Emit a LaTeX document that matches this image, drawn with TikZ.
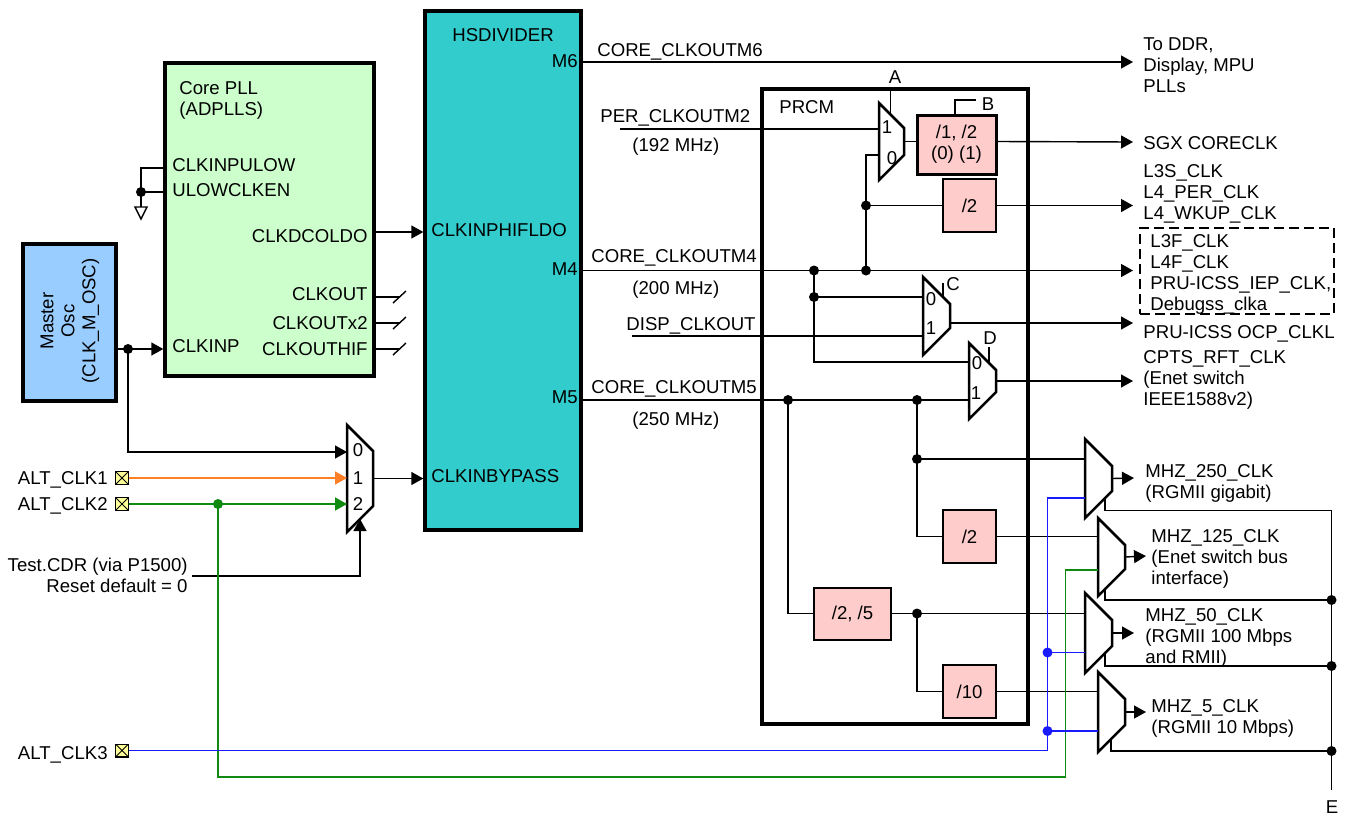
\documentclass[tikz,border=0pt]{standalone}
\usepackage{fontspec}
\setmainfont{Liberation Sans}
\usetikzlibrary{arrows.meta,positioning}
\definecolor{oscblue}{HTML}{99CCFF}
\definecolor{pllgreen}{HTML}{CCFFCC}
\definecolor{hsteal}{HTML}{33CCCC}
\definecolor{divpink}{HTML}{FFCCCC}
\definecolor{padyellow}{HTML}{FFFF99}
\definecolor{altorange}{HTML}{FF7F27}
\definecolor{altgreen}{HTML}{108A10}
\definecolor{altblue}{HTML}{1A1AFF}
\tikzset{
  every node/.style={font=\fontsize{9.3}{10.5}\selectfont},
  block/.style={draw,line width=1.7pt,minimum width=#1,inner sep=0pt},
  divbox/.style={draw,fill=divpink,line width=.7pt,inner sep=0pt,align=center},
  wire/.style={line width=.7pt},
  sig/.style={wire,-{Triangle[length=6pt,width=6.5pt]}},
  muxline/.style={line width=1.25pt,line join=miter},
  lbl/.style={inner sep=0pt,anchor=west,text height=6.8pt,text depth=0pt,yshift=-.3pt},
  lblr/.style={inner sep=0pt,anchor=east,text height=6.8pt,text depth=0pt,yshift=-.3pt},
  lblm/.style={inner sep=0pt,anchor=west,align=left,yshift=-1pt},
  digit/.style={inner sep=0pt,text height=6.8pt,text depth=0pt},
  pad/.style={draw,fill=padyellow,line width=.6pt,minimum size=6.4pt,inner sep=0pt,
    path picture={\draw[line width=.5pt] (path picture bounding box.north west) -- (path picture bounding box.south east)
      (path picture bounding box.north east) -- (path picture bounding box.south west);}},
}
\begin{document}
\begin{tikzpicture}[x=0.5pt,y=-0.5pt]
  \useasboundingbox (0,0) rectangle (1348,815);
  % blocks
  \node[block=46.5pt,fill=oscblue,minimum height=78.5pt] (osc) at (69.5,322.5) {};
  \node[block=104.5pt,fill=pllgreen,minimum height=156.5pt] (pll) at (269.5,219.5) {};
  \node[block=78pt,fill=hsteal,minimum height=259.5pt] (hsdiv) at (503,270.5) {};
  \node[block=133pt,line width=2pt,minimum height=317.5pt] (prcm) at (895,406.5) {};
  \node[draw,dash pattern=on 5pt off 2.5pt,line width=1.2pt,minimum width=97pt,minimum height=43pt,inner sep=0pt] (dashbox) at (1237,271) {};
  % dividers
  \node[divbox,line width=1.5pt,minimum width=39.5pt,minimum height=29.5pt] (divb) at (956.5,144.5) {/1, /2\\(0) (1)};
  \node[divbox,minimum width=26.5pt,minimum height=26.5pt] (divl) at (969.5,205.5) {/2};
  \node[divbox,line width=1pt,minimum width=26.5pt,minimum height=26.5pt] (divm) at (969.5,536.5) {/2};
  \node[divbox,line width=1pt,minimum width=38.5pt,minimum height=26pt] (divf) at (852.5,614) {/2, /5};
  \node[divbox,line width=1pt,minimum width=26.5pt,minimum height=26.5pt] (divt) at (969.5,691.5) {/10};
  % pads
  \node[pad] (pad1) at (122,478) {};
  \node[pad] (pad2) at (122,504) {};
  \node[pad] (pad3) at (122,750.5) {};
  % muxes
  \foreach \nm/\x/\y/\w/\h in {muxs/347/425/26/107,muxa/879/103/25/77,muxc/923/277/27/78,muxd/969/343/27/76,
    muxp/1085/439/27/79,muxq/1098/518/27/78,muxr/1085/593/27/80,muxt/1098/672/27/80}
    \draw[muxline,fill=white] (\x,\y) -- ++(\w,\w) -- ++(0,{\h-2*\w}) coordinate[midway] (\nm-out) -- ++(-\w,\w) -- cycle;
  % junctions and corners
  \coordinate (joscs) at (128,349);
  \coordinate (jgnd) at (141,192);
  \coordinate (gndtop) at (141,168);
  \coordinate (gndend) at (141,207);
  \coordinate (jalt) at (218,504);
  \coordinate (jmf) at (814,270.5);
  \coordinate (jmg) at (866,270.5);
  \coordinate (jmh) at (866,205.5);
  \coordinate (jmc) at (814,297);
  \coordinate (jfa) at (788,400);
  \coordinate (jfb) at (917,400);
  \coordinate (jfc) at (917,459);
  \coordinate (jfd) at (917,613.5);
  \coordinate (jba) at (1047.5,652.5);
  \coordinate (jbb) at (1047.5,731);
  \coordinate (jea) at (1331.5,600);
  \coordinate (jeb) at (1331.5,666);
  \coordinate (jec) at (1331.5,751);
  \coordinate (etop) at (1331.5,510.5);
  \coordinate (eend) at (1331.5,790);
  % clock source
  \draw[sig] (osc.east |- joscs) -- (joscs) -- (pll.west |- joscs);
  \draw[sig] (joscs) |- (347,452);
  \draw[wire] (pll.west |- gndtop) -- (gndtop) -- (jgnd) -- (gndend);
  \draw[wire] (pll.west |- jgnd) -- (jgnd);
  \draw[wire,fill=white] (135,207) -- (147,207) -- (141,219) -- cycle;
  \draw[sig] (pll.east |- 0,232) -- (hsdiv.west |- 0,232);
  \foreach \yy in {297,323,349} {
    \draw[wire] (pll.east |- 0,\yy) -- (400,\yy);
    \draw[wire] (393,\yy+6) -- (406,\yy-6);
  }
  \draw[sig,altorange] (pad1) -- (347,478);
  \draw[sig,altgreen] (pad2) -- (jalt) -- (347,504);
  \draw[sig] (muxs-out) -- (hsdiv.west |- muxs-out);
  \coordinate (testa) at (192,576);
  \coordinate (testb) at (360,519);
  \draw[sig] (testa) -| (testb);
  % hsdivider outputs
  \draw[sig] (hsdiv.east |- 0,62) -- (1133,62);
  \draw[wire] (620,129) -- (879,129);
  \draw[sig] (hsdiv.east |- jmf) -- (jmf) -- (jmg) -- (1133,270.5);
  \draw[wire] (jmg) -- (866,155) -- (879,155);
  \draw[wire] (jmh) -- (divl.west);
  \draw[sig] (divl.east) -- (1133,205.5);
  \draw[wire] (muxa-out) -- (divb.west |- muxa-out);
  \draw[sig] (divb.east |- muxa-out) -- (1133,142);
  \draw[wire] (890.5,91) -- (890.5,115);
  \draw[wire] (955,115) -- (955,100) -- (976,100);
  \draw[wire] (jmf) -- (814,362) -- (969,362);
  \draw[wire] (jmc) -- (923,297);
  \draw[wire] (632,336) -- (923,336);
  \draw[wire] (943,283) -- (943,296);
  \draw[sig] (muxc-out |- 0,323) -- (1133,323);
  \draw[wire] (989,347) -- (989,362);
  \draw[wire] (hsdiv.east |- jfa) -- (969,400);
  \draw[sig] (muxd-out) -- (1133,381);
  \draw[wire] (jfb) -- (917,536.5) -- (divm.west);
  \draw[wire] (jfc) -- (1085,459);
  \draw[wire] (divm.east) -- (1098,536.5);
  \draw[wire] (jfa) -- (788,613.5) -- (divf.west |- jfd);
  \draw[wire] (divf.east |- jfd) -- (1085,613.5);
  \draw[wire] (jfd) -- (917,691.5) -- (divt.west);
  \draw[wire] (divt.east) -- (1098,691.5);
  % alt clocks to the output muxes
  \draw[wire,altgreen] (jalt) -- (218,777) -- (1065.5,777) -- (1065.5,570) -- (1098,570);
  \draw[wire,altblue] (pad3) -- (1047.5,750.5) -- (1047.5,498) -- (1085,498);
  \draw[wire,altblue] (jba) -- (1085,652.5);
  \draw[wire,altblue] (jbb) -- (1098,731);
  % output muxes
  \draw[sig] (muxp-out) -- (1134,478);
  \draw[sig] (muxq-out) -- (1146,556);
  \draw[sig] (muxr-out) -- (1134,633);
  \draw[sig] (muxt-out) -- (1146,712);
  \draw[wire] (1105,499) -- (1105,510.5) -- (etop) -- (eend);
  \draw[wire] (1105,589) -- (1105,600) -- (jea);
  \draw[wire] (1105,654) -- (1105,666) -- (jeb);
  \draw[wire] (1111,740) -- (1111,751) -- (jec);
  % dots
  \foreach \jn in {joscs,jgnd,jmf,jmg,jmh,jmc,jfa,jfb,jfc,jfd,jea,jeb,jec}
    \fill (\jn) circle (2.5pt);
  \fill[altgreen] (jalt) circle (2.5pt);
  \fill[altblue] (jba) circle (2.5pt);
  \fill[altblue] (jbb) circle (2.5pt);
  % mux inputs
  \node[digit] (s0) at (358,450) {0};
  \node[digit] (s1) at (358,478) {1};
  \node[digit] (s2) at (358,504) {2};
  \node[digit] (a1) at (887,127) {1};
  \node[digit] (a0) at (892,158) {0};
  \node[digit] (c0) at (931,299) {0};
  \node[digit] (c1) at (931,328) {1};
  \node[digit] (d0) at (977,363) {0};
  \node[digit] (d1) at (976,393) {1};
  \node[digit] (ltra) at (895,77) {A};
  \node[digit] (ltrb) at (988,104) {B};
  \node[digit] (ltrc) at (953,284) {C};
  \node[digit] (ltrd) at (990,338) {D};
  \node[digit] (ltre) at (1332,807) {E};
  % block texts
  \node[rotate=90,align=center,inner sep=0pt] (osctxt) at (70,321) {Master\\Osc\\(CLK\_M\_OSC)};
  \node[lblm] (plltxt) at (179,98) {Core PLL\\(ADPLLS)};
  \node[lbl] (inlow) at (172,164) {CLKINPULOW};
  \node[lbl] (ulow) at (172,189) {ULOWCLKEN};
  \node[lbl] (clkinp) at (172,345) {CLKINP};
  \node[lblr] (dcoldo) at (368,235) {CLKDCOLDO};
  \node[lblr] (clkout) at (368,293) {CLKOUT};
  \node[lblr] (clkoutx) at (368,322) {CLKOUTx2};
  \node[lblr] (clkhif) at (368,348) {CLKOUTHIF};
  \node[lbl] (hstxt) at (452,34) {HSDIVIDER};
  \node[lbl] (phifldo) at (431,229) {CLKINPHIFLDO};
  \node[lbl] (bypass) at (431,475) {CLKINBYPASS};
  \node[lblr] (m6) at (578,60) {M6};
  \node[lblr] (m4) at (578,268) {M4};
  \node[lblr] (m5) at (578,396) {M5};
  \node[lbl] (prcmtxt) at (779,106) {PRCM};
  % inputs
  \node[lblr] (alt1) at (108,477) {ALT\_CLK1};
  \node[lblr] (alt2) at (108,503) {ALT\_CLK2};
  \node[lblr] (alt3) at (108,752) {ALT\_CLK3};
  \node[lblr] (test) at (188,564) {Test.CDR (via P1500)};
  \node[lblr] (reset) at (188,585) {Reset default = 0};
  % net names
  \node[lbl] (nm6) at (597,49) {CORE\_CLKOUTM6};
  \node[lbl] (nm2) at (600,115) {PER\_CLKOUTM2};
  \node[lbl] (fm2) at (632,144) {(192 MHz)};
  \node[lbl] (nm4) at (591,255) {CORE\_CLKOUTM4};
  \node[lbl] (fm4) at (632,287) {(200 MHz)};
  \node[lbl] (ndisp) at (626,323) {DISP\_CLKOUT};
  \node[lbl] (nm5) at (591,386) {CORE\_CLKOUTM5};
  \node[lbl] (fm5) at (632,418) {(250 MHz)};
  % outputs
  \node[lblm] (oddr) at (1143,63) {To DDR,\\Display, MPU\\PLLs};
  \node[lbl] (osgx) at (1143,142) {SGX CORECLK};
  \node[lblm] (ol3s) at (1143,192) {L3S\_CLK\\L4\_PER\_CLK\\L4\_WKUP\_CLK};
  \node[lblm] (ol3f) at (1150,272) {L3F\_CLK\\L4F\_CLK\\PRU-ICSS\_IEP\_CLK,\\Debugss\_clka};
  \node[lbl] (oocp) at (1143,331) {PRU-ICSS OCP\_CLKL};
  \node[lblm] (ocpts) at (1143,378) {CPTS\_RFT\_CLK\\(Enet switch\\IEEE1588v2)};
  \node[lblm] (o250) at (1145,481) {MHZ\_250\_CLK\\(RGMII gigabit)};
  \node[lblm] (o125) at (1151,557) {MHZ\_125\_CLK\\(Enet switch bus\\interface)};
  \node[lblm] (o50) at (1145,636) {MHZ\_50\_CLK\\(RGMII 100 Mbps\\and RMII)};
  \node[lblm] (o5) at (1151,716) {MHZ\_5\_CLK\\(RGMII 10 Mbps)};
\end{tikzpicture}
\end{document}
